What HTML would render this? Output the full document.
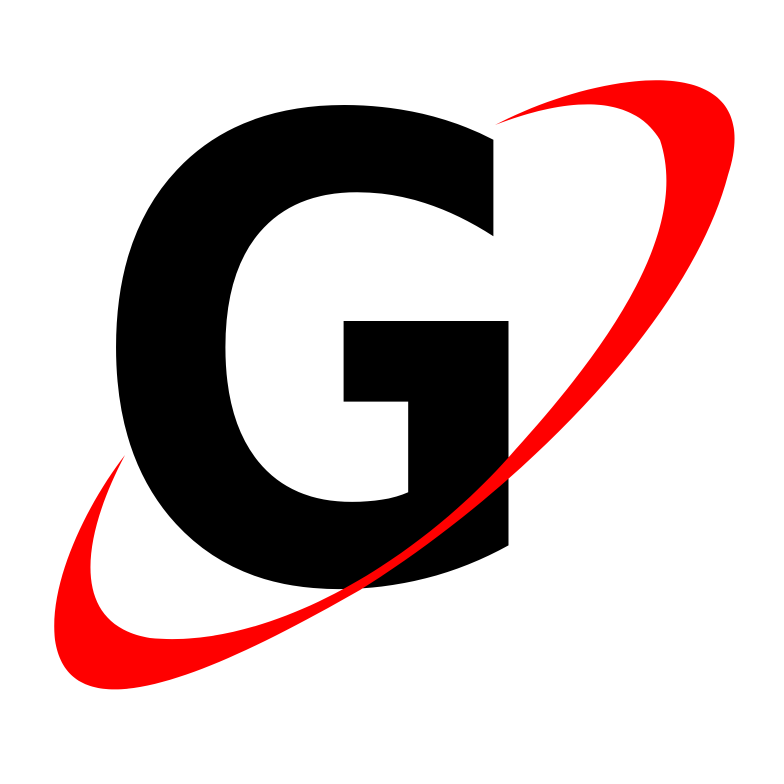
<!DOCTYPE html>
<html><head><meta charset="utf-8"><style>
html,body{margin:0;padding:0;background:#fff;}
svg{display:block}
</style></head>
<body>
<svg width="784" height="784" viewBox="0 0 784 784">
<rect width="784" height="784" fill="#fff"/>
<text x="88" y="580" font-family="'DejaVu Sans', 'Liberation Sans', sans-serif" font-weight="bold" font-size="640" textLength="462" lengthAdjust="spacingAndGlyphs" fill="#000">G</text>
<path fill="#ff0000"
d="M 495 125 C 600 70, 770 45, 728 175 C 690 320, 520 490, 360 590 C 220 670, 70 740, 55 640 C 48 580, 90 500, 125 455 C 80 540, 70 625, 150 638 C 270 650, 420 560, 515 450 C 610 345, 690 230, 660 140 C 630 90, 560 100, 495 125 Z"/>
</svg>
</body></html>
